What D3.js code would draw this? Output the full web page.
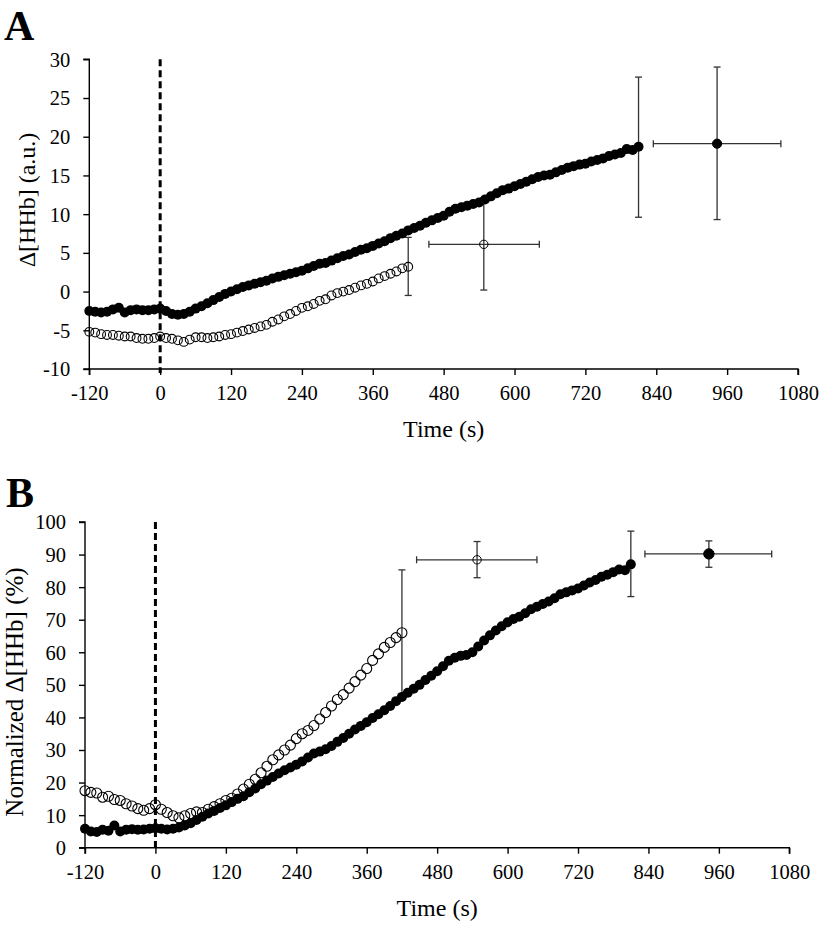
<!DOCTYPE html>
<html>
<head>
<meta charset="utf-8">
<script src="https://cdn.jsdelivr.net/npm/d3@7"></script>
<style>
  html, body { margin: 0; padding: 0; background: #fff; }
  svg { display: block; }
  text { font-family: "Liberation Serif", "Times New Roman", serif; fill: #000; }
</style>
</head>
<body>
<svg id="chart" width="822" height="926"></svg>
<script>
// ---------------- DATA ----------------
// Sampling grids (s)
const timesLong = d3.range(-120, 811, 10);   // -120 ... 810
const timesShort = d3.range(-120, 421, 10);  // -120 ... 420

// Panel A: Δ[HHb] (a.u.)
const filledA = [
  -2.5,-2.6,-2.7,-2.6,-2.3,-2.1,-2.7,-2.4,-2.3,-2.4,-2.4,-2.3,
  -2.2,-2.5,-2.9,-3.0,-2.9,-2.6,-2.2,-1.9,-1.5,-1.1,
  -0.7,-0.3,0.0,0.3,0.6,0.8,1.0,1.2,1.4,1.7,
  1.9,2.1,2.3,2.5,2.7,3.0,3.3,3.6,3.7,4.0,
  4.3,4.6,4.8,5.1,5.4,5.6,5.9,6.2,6.5,6.9,
  7.2,7.5,7.9,8.2,8.5,8.9,9.2,9.5,9.8,10.3,
  10.7,10.9,11.1,11.3,11.5,11.9,12.3,12.7,13.1,13.3,
  13.6,13.9,14.2,14.5,14.8,15.0,15.1,15.4,15.7,16.0,
  16.2,16.4,16.5,16.8,17.0,17.2,17.5,17.7,17.9,18.4,
  18.3,18.7
];
const openA = [
  -5.2,-5.3,-5.5,-5.6,-5.6,-5.7,-5.8,-5.8,-6.0,-6.1,-6.1,-6.0,
  -5.8,-6.0,-6.1,-6.3,-6.5,-6.2,-5.9,-5.9,-6.0,-5.9,
  -5.8,-5.6,-5.5,-5.3,-5.1,-4.9,-4.7,-4.5,-4.3,-3.9,
  -3.6,-3.2,-2.9,-2.5,-2.1,-1.9,-1.6,-1.2,-1.0,-0.5,
  -0.2,0.0,0.2,0.5,0.8,1.0,1.3,1.7,2.0,2.3,
  2.6,3.0,3.2
];
// end-of-exercise error bars [time, low, high]
const endErrA = [[420, -0.5, 7.0], [810, 9.6, 27.7]];
// mean points: [time, value, timeLow, timeHigh, valueLow, valueHigh, filled]
const meansA = [[548, 6.1, 455, 642, 0.2, 12.1, false], [943, 19.1, 835, 1051, 9.3, 29.0, true]];
const yTicksA = [-10, -5, 0, 5, 10, 15, 20, 25, 30];

// Panel B: Normalized Δ[HHb] (%)
const filledB = [
  5.8,5.0,4.8,5.5,5.2,6.8,5.0,5.5,5.7,5.5,5.6,5.8,
  6.0,5.8,5.6,5.8,6.2,6.8,7.5,8.5,9.5,10.5,
  11.3,12.2,13.0,14.0,15.0,15.8,17.0,18.2,19.5,20.6,
  21.7,22.8,23.8,24.6,25.5,26.5,27.7,28.9,29.5,30.2,
  31.2,32.5,33.7,35.0,36.3,37.4,38.5,39.8,41.0,42.2,
  43.5,45.0,46.3,47.6,48.8,50.0,51.5,52.8,54.2,55.7,
  57.4,58.3,58.9,59.2,60.0,61.8,63.6,65.2,66.7,68.0,
  69.2,70.2,70.9,72.0,73.2,74.0,74.8,75.6,76.6,77.8,
  78.4,79.0,79.6,80.5,81.4,82.2,83.2,83.8,84.6,85.4,
  85.2,87.0
];
const openB = [
  17.5,17.0,16.8,15.5,15.8,14.8,14.5,13.5,12.8,12.0,11.5,12.0,
  13.2,11.8,10.8,9.8,9.2,9.8,10.5,11.0,10.8,11.8,
  12.6,13.5,14.5,15.2,16.5,18.0,19.5,21.0,23.0,25.0,
  27.0,28.5,30.0,31.5,33.5,35.0,36.0,37.5,39.5,41.5,
  43.5,45.5,47.0,49.0,51.0,53.0,55.0,57.5,59.5,61.5,
  63.0,64.5,66.0
];
const endErrB = [[420, 47.0, 85.3], [810, 77.1, 97.2]];
const meansB = [[548, 88.4, 445, 650, 82.9, 94.0, false], [943, 90.2, 834, 1050, 86.1, 94.2, true]];
const yTicksB = [0, 10, 20, 30, 40, 50, 60, 70, 80, 90, 100];

const xTicks = [-120, 0, 120, 240, 360, 480, 600, 720, 840, 960, 1080];

// ---------------- DRAW ----------------
const svg = d3.select("#chart");

function panel(cfg) {
  const g = svg.append("g");
  const x = d3.scaleLinear().domain([-120, 1080]).range([cfg.x0, cfg.x1]);
  const y = d3.scaleLinear().domain(cfg.yDomain).range([cfg.yBottom, cfg.yTop]);

  // axes
  const fmt = d => String(d);
  const xAxis = d3.axisBottom(x).tickValues(xTicks).tickSize(6).tickPadding(6).tickFormat(fmt);
  const gx = g.append("g").attr("transform", `translate(0,${cfg.yBottom})`).call(xAxis);
  const yAxis = d3.axisLeft(y).tickValues(cfg.yTicks).tickSize(6).tickPadding(13).tickFormat(fmt);
  const gy = g.append("g").attr("transform", `translate(${cfg.x0},0)`).call(yAxis);
  [gx, gy].forEach(a => {
    a.select(".domain").attr("stroke", "#000").attr("stroke-width", 1.4);
    a.selectAll(".tick line").attr("stroke", "#000").attr("stroke-width", 1.4);
    a.selectAll(".tick text").attr("font-size", 20.5).attr("fill", "#000");
  });
  gx.select(".domain").attr("d", `M${cfg.x0},6V0H${cfg.x1}V6`);
  gy.select(".domain").attr("d", `M-6,${cfg.yTop}H0V${cfg.yBottom}H-6`);
  gx.selectAll(".tick text").attr("dy", "0.92em");
  gy.selectAll(".tick text").attr("dy", "0.34em");

  // dashed onset line at t=0
  g.append("line")
    .attr("x1", x(0)).attr("x2", x(0))
    .attr("y1", y(cfg.yDomain[1])).attr("y2", y(cfg.yDomain[0]) + 4)
    .attr("stroke", "#000").attr("stroke-width", 3).attr("stroke-dasharray", "7,4");

  // error bars
  const eg = g.append("g").attr("stroke", "#333").attr("stroke-width", 1.3).attr("fill", "none");
  const cap = 3.5;
  cfg.endErr.forEach(([t, lo, hi]) => {
    eg.append("line").attr("x1", x(t)).attr("x2", x(t)).attr("y1", y(lo)).attr("y2", y(hi));
    eg.append("line").attr("x1", x(t) - cap).attr("x2", x(t) + cap).attr("y1", y(lo)).attr("y2", y(lo));
    eg.append("line").attr("x1", x(t) - cap).attr("x2", x(t) + cap).attr("y1", y(hi)).attr("y2", y(hi));
  });
  cfg.means.forEach(([t, v, tl, th, vl, vh]) => {
    eg.append("line").attr("x1", x(t)).attr("x2", x(t)).attr("y1", y(vl)).attr("y2", y(vh));
    eg.append("line").attr("x1", x(t) - cap).attr("x2", x(t) + cap).attr("y1", y(vl)).attr("y2", y(vl));
    eg.append("line").attr("x1", x(t) - cap).attr("x2", x(t) + cap).attr("y1", y(vh)).attr("y2", y(vh));
    eg.append("line").attr("x1", x(tl)).attr("x2", x(th)).attr("y1", y(v)).attr("y2", y(v));
    eg.append("line").attr("x1", x(tl)).attr("x2", x(tl)).attr("y1", y(v) - cap).attr("y2", y(v) + cap);
    eg.append("line").attr("x1", x(th)).attr("x2", x(th)).attr("y1", y(v) - cap).attr("y2", y(v) + cap);
  });

  // filled series
  g.append("g").selectAll("circle")
    .data(cfg.filled.map((v, i) => [timesLong[i], v]))
    .join("circle")
    .attr("cx", d => x(d[0])).attr("cy", d => y(d[1]))
    .attr("r", cfg.rFilled).attr("fill", "#000");

  // open series
  g.append("g").selectAll("circle")
    .data(cfg.open.map((v, i) => [timesShort[i], v]))
    .join("circle")
    .attr("cx", d => x(d[0])).attr("cy", d => y(d[1]))
    .attr("r", cfg.rOpen).attr("fill", "none").attr("stroke", "#000").attr("stroke-width", 1.1);

  // mean markers
  g.append("g").selectAll("circle")
    .data(cfg.means)
    .join("circle")
    .attr("cx", d => x(d[0])).attr("cy", d => y(d[1]))
    .attr("r", d => d[6] ? cfg.rMeanFilled : 4.2)
    .attr("fill", d => d[6] ? "#000" : "none")
    .attr("stroke", "#000").attr("stroke-width", 1);

  // x title
  g.append("text")
    .attr("x", (cfg.x0 + cfg.x1) / 2).attr("y", cfg.yBottom + 68)
    .attr("text-anchor", "middle").attr("font-size", 24)
    .text("Time (s)");

  // y title
  g.append("text")
    .attr("transform", `translate(${cfg.yTitleX},${cfg.yTitleY}) rotate(-90)`)
    .attr("text-anchor", "middle").attr("font-size", cfg.yTitleSize)
    .text(cfg.yTitle);

  // panel letter
  g.append("text")
    .attr("x", cfg.letterX).attr("y", cfg.letterY)
    .attr("font-size", 42).attr("font-weight", "bold")
    .text(cfg.letter);
}

panel({
  x0: 89.3, x1: 798, yTop: 59.3, yBottom: 369, yDomain: [-10, 30], yTicks: yTicksA,
  filled: filledA, open: openA, endErr: endErrA, means: meansA,
  rFilled: 5.0, rOpen: 4.4, rMeanFilled: 4.6,
  yTitle: "Δ[HHb] (a.u.)", yTitleX: 35, yTitleY: 200, yTitleSize: 24,
  letter: "A", letterX: 4, letterY: 40
});

panel({
  x0: 85, x1: 789.3, yTop: 522, yBottom: 847.7, yDomain: [0, 100], yTicks: yTicksB,
  filled: filledB, open: openB, endErr: endErrB, means: meansB,
  rFilled: 5.0, rOpen: 5.0, rMeanFilled: 5.2,
  yTitle: "Normalized Δ[HHb] (%)", yTitleX: 23, yTitleY: 692, yTitleSize: 25,
  letter: "B", letterX: 6, letterY: 507
});
</script>
</body>
</html>
